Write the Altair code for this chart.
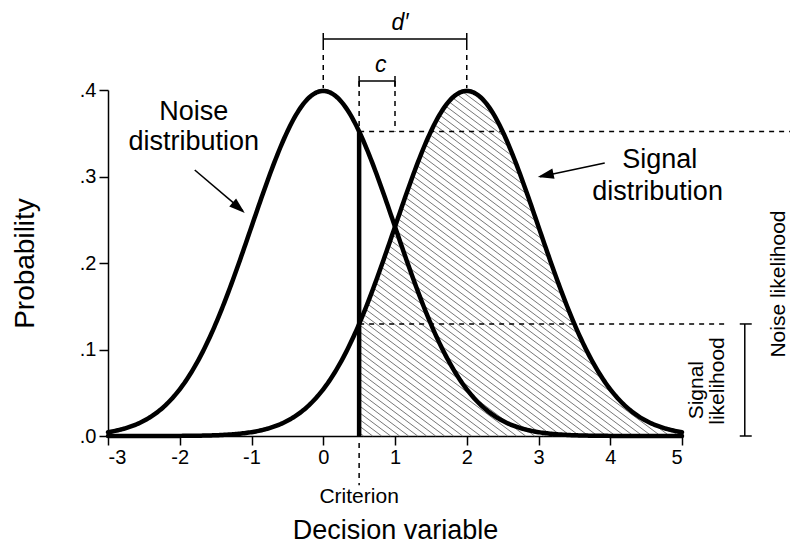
import altair as alt
import numpy as np
import pandas as pd

# ---- values ----
X_DOMAIN = [-3, 5]
Y_DOMAIN = [0, 0.4]
x_ticks = [-3, -2, -1, 0, 1, 2, 3, 4, 5]
y_ticks = [0.0, 0.1, 0.2, 0.3, 0.4]
noise_mean = 0.0
signal_mean = 2.0
sd = 1.0
criterion = 0.5

W, H = 574, 346
FONT = "Liberation Sans"


def pdf(x, m):
    return np.exp(-0.5 * ((x - m) / sd) ** 2) / (sd * np.sqrt(2 * np.pi))


noise_at_c = float(pdf(criterion, noise_mean))
signal_at_c = float(pdf(criterion, signal_mean))

# ---- curves ----
xs = np.linspace(X_DOMAIN[0], X_DOMAIN[1], 401)
curves = pd.DataFrame({
    "x": np.concatenate([xs, xs]),
    "y": np.concatenate([pdf(xs, noise_mean), pdf(xs, signal_mean)]),
    "series": ["Noise"] * len(xs) + ["Signal"] * len(xs),
})

# ---- hatch of signal area beyond criterion ----
px_per_x = W / (X_DOMAIN[1] - X_DOMAIN[0])
px_per_y = H / (Y_DOMAIN[1] - Y_DOMAIN[0])
k = 0.75 * px_per_x / px_per_y     # slope in data units
step = 9.0 / px_per_x
hx = np.linspace(criterion, X_DOMAIN[1], 3000)
hs = pdf(hx, signal_mean)
segs = []
for x0 in np.arange(criterion + step * 0.5, 10, step):
    ly = k * (x0 - hx)
    inside = (ly >= 0) & (ly <= hs)
    idx = np.where(inside)[0]
    if len(idx) == 0:
        continue
    runs = np.split(idx, np.where(np.diff(idx) != 1)[0] + 1)
    for r in runs:
        if len(r) < 2:
            continue
        a, b = r[0], r[-1]
        segs.append({"x": hx[a], "y": ly[a], "x2": hx[b], "y2": ly[b]})
hatch = pd.DataFrame(segs)

xscale = alt.Scale(domain=X_DOMAIN, nice=False, zero=False)
yscale = alt.Scale(domain=Y_DOMAIN, nice=False, zero=False)
xaxis = alt.Axis(values=x_ticks, title="Decision variable", grid=False, tickSize=9,
                 labelPadding=2, titlePadding=50, labelFontSize=20, titleFontSize=27,
                 labelFont=FONT, titleFont=FONT, titleFontWeight="normal",
                 labelExpr="datum.value < 0 ? '-' + abs(datum.value) : '' + datum.value",
                 domainColor="black", tickColor="black", labelColor="black",
                 titleColor="black", domainWidth=1.5, tickWidth=1.5, labelAngle=0)
yaxis = alt.Axis(values=y_ticks, title="Probability", grid=False, tickSize=9,
                 labelPadding=3, titlePadding=40, labelFontSize=20, titleFontSize=28,
                 labelFont=FONT, titleFont=FONT, titleFontWeight="normal",
                 labelExpr="replace(format(datum.value, '.1f'), '0.', '.')",
                 domainColor="black", tickColor="black", labelColor="black",
                 titleColor="black", domainWidth=1.5, tickWidth=1.5)


def X(f="x"):
    return alt.X(f"{f}:Q", scale=xscale, axis=xaxis)


def Y(f="y"):
    return alt.Y(f"{f}:Q", scale=yscale, axis=yaxis)


hatch_layer = alt.Chart(hatch).mark_rule(color="#666666", strokeWidth=0.9).encode(
    x=X(), y=Y(), x2="x2:Q", y2="y2:Q")

curve_layer = alt.Chart(curves).mark_line(color="black", strokeWidth=4.5, strokeCap="round").encode(
    x=X(), y=Y(), detail="series:N")

crit_line = alt.Chart(pd.DataFrame({"x": [criterion], "y": [0.0], "y2": [noise_at_c]})).mark_rule(
    color="black", strokeWidth=4.5).encode(x=X(), y=Y(), y2="y2:Q")

# dashed guides
dashed = pd.DataFrame({
    "x":  [criterion, criterion, noise_mean, signal_mean, criterion, 1.0, criterion],
    "x2": [6.6, 5.64, noise_mean, signal_mean, criterion, 1.0, criterion],
    "y":  [noise_at_c, signal_at_c, 0.452, 0.452, 0.4104, 0.4104, -0.008],
    "y2": [noise_at_c, signal_at_c, 0.402, 0.402, noise_at_c, noise_at_c, -0.057],
})
dashed_layer = alt.Chart(dashed).mark_rule(color="black", strokeWidth=1.5, strokeDash=[5, 5]).encode(
    x=X(), y=Y(), x2="x2:Q", y2="y2:Q")

# solid brackets
brackets = pd.DataFrame({
    "x":  [noise_mean, noise_mean, signal_mean, criterion, criterion, 1.0,
           5.875, 5.805, 5.805, 6.55],
    "x2": [signal_mean, noise_mean, signal_mean, 1.0, criterion, 1.0,
           5.875, 5.972, 5.972, 6.68],
    "y":  [0.459, 0.452, 0.452, 0.4104, 0.4035, 0.4035, 0.0, 0.0, signal_at_c, 0.0],
    "y2": [0.459, 0.466, 0.466, 0.4104, 0.4162, 0.4162, signal_at_c, 0.0, signal_at_c, 0.0],
})
bracket_layer = alt.Chart(brackets).mark_rule(color="black", strokeWidth=1.5).encode(
    x=X(), y=Y(), x2="x2:Q", y2="y2:Q")

# arrows
arrows = pd.DataFrame({
    "x": [-1.791, -1.12, 3.923, 3.02],
    "y": [0.3075, 0.2602, 0.3156, 0.2998],
    "arrow": ["noise", "noise", "signal", "signal"],
})
arrow_shaft = alt.Chart(arrows).mark_line(color="black", strokeWidth=1.6).encode(
    x=X(), y=Y(), detail="arrow:N")
head_path = "M 0 0 L -2 -0.65 L -2 0.65 Z"
heads = pd.DataFrame({"x": [-1.094, 2.99], "y": [0.2578, 0.2994], "angle": [41, 168]})
arrow_heads = alt.Chart(heads).mark_point(shape=head_path, filled=True, color="black",
                                          size=256, opacity=1).encode(
    x=X(), y=Y(), angle=alt.Angle("angle:Q", scale=None))

# texts
labels_big = pd.DataFrame({
    "x": [-1.805, -1.805, 4.69, 4.66],
    "y": [0.3653, 0.3306, 0.3098, 0.2728],
    "text": ["Noise", "distribution", "Signal", "distribution"],
})
text_big = alt.Chart(labels_big).mark_text(font=FONT, fontSize=27, align="center",
                                           baseline="alphabetic", color="black").encode(
    x=X(), y=Y(), text="text:N")

labels_it = pd.DataFrame({"x": [1.07, 0.80], "y": [0.4694, 0.4208], "text": ["d′", "c"]})
text_it = alt.Chart(labels_it).mark_text(font=FONT, fontSize=23, fontStyle="italic",
                                         align="center", baseline="alphabetic",
                                         color="black").encode(x=X(), y=Y(), text="text:N")

crit_lab = pd.DataFrame({"x": [criterion], "y": [-0.0775], "text": ["Criterion"]})
text_crit = alt.Chart(crit_lab).mark_text(font=FONT, fontSize=21, align="center",
                                          baseline="alphabetic", color="black").encode(
    x=X(), y=Y(), text="text:N")

rot_lab = pd.DataFrame({
    "x": [5.29, 5.58, 6.43],
    "y": [0.053, 0.0636, 0.1757],
    "text": ["Signal", "likelihood", "Noise likelihood"],
})
text_rot = alt.Chart(rot_lab).mark_text(font=FONT, fontSize=21, align="center", angle=270,
                                        baseline="alphabetic", color="black").encode(
    x=X(), y=Y(), text="text:N")

chart = alt.layer(
    hatch_layer, dashed_layer, bracket_layer, curve_layer, crit_line,
    arrow_shaft, arrow_heads, text_big, text_it, text_crit, text_rot,
).properties(
    width=W, height=H,
    autosize=alt.AutoSizeParams(type="none"),
    padding={"left": 100, "top": 82, "right": 108, "bottom": 108},
    background="white",
).configure_view(stroke=None)

chart.save("out.html", embed_options={"renderer": "svg", "actions": False})
